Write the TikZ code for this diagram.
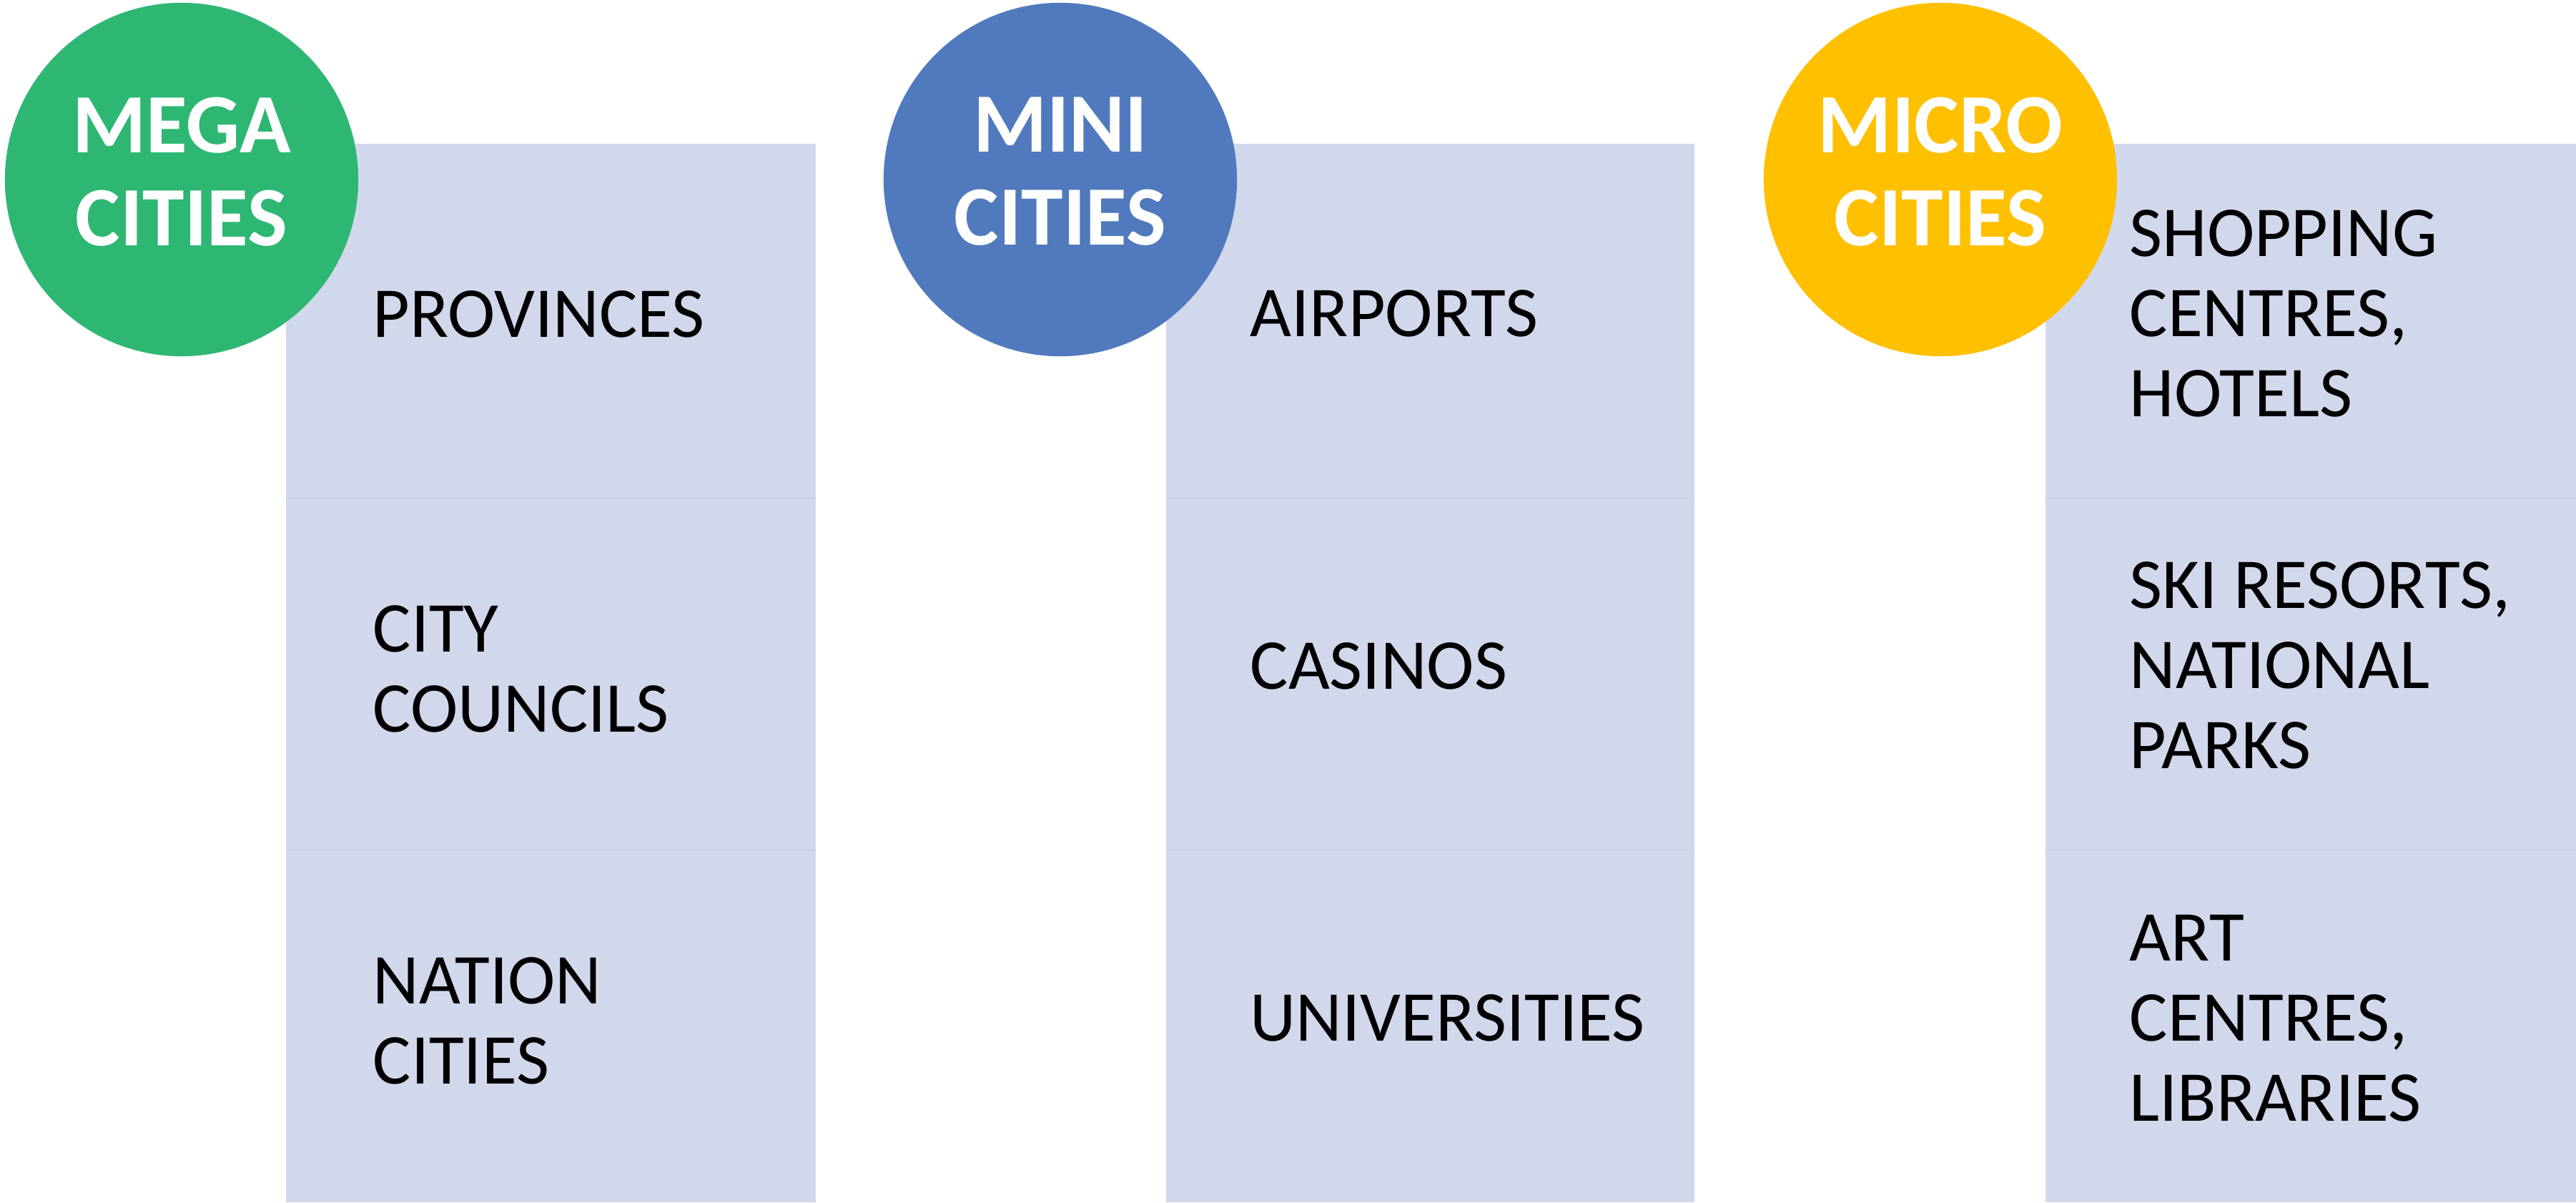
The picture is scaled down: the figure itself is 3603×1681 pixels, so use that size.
\documentclass[tikz,border=0pt]{standalone}
\usepackage{fontspec}
\setmainfont{Carlito}
\definecolor{cellfill}{HTML}{D2D8EC}
\definecolor{cellline}{HTML}{CCD3E8}
\definecolor{megagreen}{HTML}{2EB773}
\definecolor{miniblue}{HTML}{507ABD}
\definecolor{microyellow}{HTML}{FFC000}
\tikzset{
  cell/.style={fill=cellfill, draw=none},
  sepline/.style={draw=cellline, line width=0.03cm},
  bubble/.style={circle, minimum size=4.94cm, inner sep=0pt, draw=none},
  bubbletext/.style={text=white, align=center, inner sep=0pt, anchor=center,
    font=\bfseries\fontsize{1.18cm}{1.30cm}\selectfont},
  celltext/.style={text=black, align=left, inner sep=0pt, anchor=west,
    font=\fontsize{1.0cm}{1.12cm}\selectfont},
}
\begin{document}
\begin{tikzpicture}[x=0.01cm, y=-0.01cm]
\useasboundingbox (0,0) rectangle (3603,1681);
% columns (cells)
\foreach \L/\R in {400/1141, 1631/2370, 2861/3603}{
  \path[cell] (\L,201) rectangle (\R,1681);
  \draw[sepline] (\L,696) -- (\R,696);
  \draw[sepline] (\L,1188) -- (\R,1188);
}
% circles
\node[bubble, fill=megagreen] (c1) at (254,251) {};
\node[bubble, fill=miniblue] (c2) at (1483,251) {};
\node[bubble, fill=microyellow] (c3) at (2714,251) {};
\node[bubbletext] (t1) at (254,240) {MEGA\\CITIES};
\node[bubbletext] (t2) at (1483,240) {MINI\\CITIES};
\node[bubbletext] (t3) at (2714,240) {MICRO\\CITIES};
% cell texts
\node[celltext] (a1) at (521,439) {PROVINCES};
\node[celltext] (a2) at (521,935) {CITY\\COUNCILS};
\node[celltext] (a3) at (521,1427) {NATION\\CITIES};
\node[celltext] (b1) at (1748,438) {AIRPORTS};
\node[celltext] (b2) at (1748,931) {CASINOS};
\node[celltext] (b3) at (1748,1423) {UNIVERSITIES};
\node[celltext] (m1) at (2978,438) {SHOPPING\\CENTRES,\\HOTELS};
\node[celltext] (m2) at (2978,930) {SKI RESORTS,\\NATIONAL\\PARKS};
\node[celltext] (m3) at (2978,1424) {ART\\CENTRES,\\LIBRARIES};
\end{tikzpicture}
\end{document}
